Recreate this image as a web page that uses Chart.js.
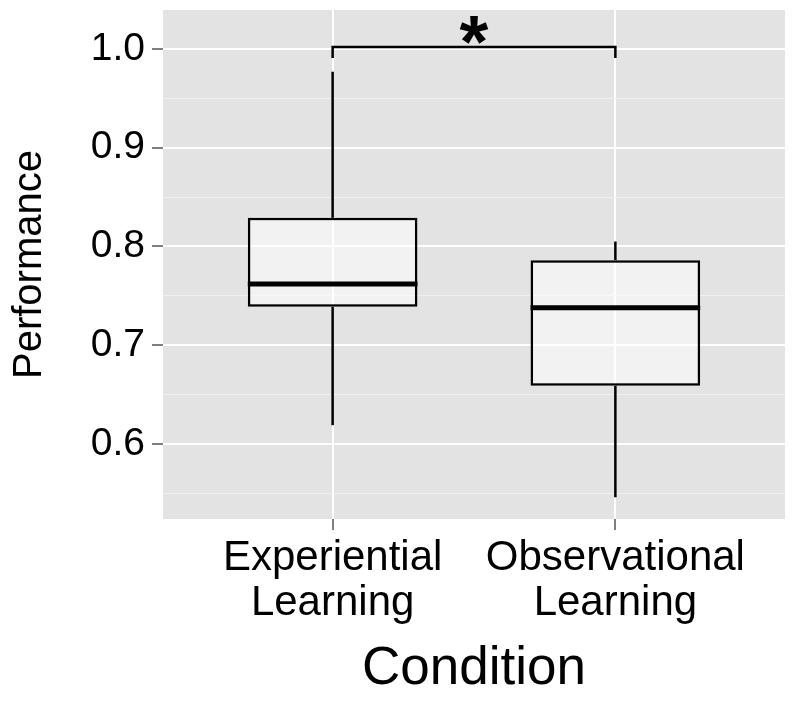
<!DOCTYPE html>
<html>
<head>
<meta charset="utf-8">
<script src="https://cdn.jsdelivr.net/npm/chart.js@4"></script>
<style>
  html, body { margin: 0; padding: 0; background: #fff; }
</style>
</head>
<body>
<canvas id="myChart" width="800" height="704"></canvas>
<script>
// box summary per condition
var conditions = [["Experiential", "Learning"], ["Observational", "Learning"]];
var positions = [1, 2];
var lowWhisker = [0.619, 0.546];
var lowerQuartile = [0.739, 0.659];
var medians = [0.762, 0.738];
var upperQuartile = [0.829, 0.786];
var highWhisker = [0.977, 0.805];

var yMajorTicks = [0.6, 0.7, 0.8, 0.9, 1.0];
var yMinorTicks = [0.55, 0.65, 0.75, 0.85, 0.95];

// significance bracket between the two conditions
var bracketLevel = 1.002;
var bracketDrop = 0.991;
var starLevel = 1.019;

var FONT = "'Liberation Sans', Arial, Helvetica, sans-serif";

function isMajor(v) {
    return yMajorTicks.some(function (m) { return Math.abs(m - v) < 1e-6; });
}

var panelBg = {
    id: 'panelBg',
    beforeDraw: function (chart) {
        var a = chart.chartArea, ctx = chart.ctx;
        ctx.save();
        ctx.fillStyle = '#e3e3e3';
        ctx.fillRect(a.left, a.top, a.right - a.left, a.bottom - a.top);
        ctx.restore();
    }
};

var boxExtras = {
    id: 'boxExtras',
    afterDatasetsDraw: function (chart) {
        var ctx = chart.ctx;
        var xs = chart.scales.x, ys = chart.scales.y;
        var boxes = chart.getDatasetMeta(2).data;
        ctx.save();
        // medians
        ctx.strokeStyle = '#000';
        ctx.lineWidth = 5;
        ctx.lineCap = 'butt';
        boxes.forEach(function (bar, i) {
            var y = ys.getPixelForValue(medians[i]);
            ctx.beginPath();
            ctx.moveTo(bar.x - bar.width / 2, y);
            ctx.lineTo(bar.x + bar.width / 2, y);
            ctx.stroke();
        });
        // bracket
        var x1 = xs.getPixelForValue(positions[0]);
        var x2 = xs.getPixelForValue(positions[1]);
        var yb = ys.getPixelForValue(bracketLevel);
        var yd = ys.getPixelForValue(bracketDrop);
        ctx.lineWidth = 2.5;
        ctx.lineJoin = 'miter';
        ctx.beginPath();
        ctx.moveTo(x1, yd);
        ctx.lineTo(x1, yb);
        ctx.lineTo(x2, yb);
        ctx.lineTo(x2, yd);
        ctx.stroke();
        // star
        ctx.fillStyle = '#000';
        ctx.font = 'bold 74px ' + FONT;
        ctx.textAlign = 'center';
        ctx.textBaseline = 'alphabetic';
        var m = ctx.measureText('*');
        var ys0 = ys.getPixelForValue(starLevel);
        var mid = (m.actualBoundingBoxAscent - m.actualBoundingBoxDescent) / 2;
        ctx.fillText('*', (x1 + x2) / 2, ys0 + mid);
        ctx.restore();
    }
};

function toPoints(lo, hi) {
    return positions.map(function (p, i) { return { x: p, y: [lo[i], hi[i]] }; });
}

var boxChart = new Chart(document.getElementById('myChart'), {
    type: 'bar',
    data: {
        datasets: [{
            label: 'lower whisker',
            data: toPoints(lowWhisker, lowerQuartile),
            backgroundColor: '#000',
            borderWidth: 0,
            maxBarThickness: 2.5
        }, {
            label: 'upper whisker',
            data: toPoints(upperQuartile, highWhisker),
            backgroundColor: '#000',
            borderWidth: 0,
            maxBarThickness: 2.5
        }, {
            label: 'box',
            data: toPoints(lowerQuartile, upperQuartile),
            backgroundColor: 'rgba(255,255,255,0.55)',
            borderColor: '#000',
            borderWidth: 2.5,
            borderSkipped: false,
            barPercentage: 0.6
        }]
    },
    options: {
        responsive: false,
        animation: false,
        devicePixelRatio: 1,
        grouped: false,
        categoryPercentage: 1,
        layout: { padding: { top: 10, right: 15, left: 0, bottom: 0 } },
        plugins: {
            legend: { display: false },
            tooltip: { enabled: false }
        },
        scales: {
            x: {
                type: 'linear',
                min: 0.4,
                max: 2.6,
                offset: false,
                afterBuildTicks: function (scale) {
                    scale.ticks = positions.map(function (p) { return { value: p }; });
                },
                afterFit: function (scale) {
                    scale.height = 185;
                    scale.paddingLeft = 0;
                    scale.paddingRight = 0;
                },
                ticks: {
                    color: '#000',
                    font: { family: FONT, size: 42, lineHeight: 1.07 },
                    padding: 6,
                    maxRotation: 0,
                    autoSkip: false,
                    callback: function (v) {
                        var i = positions.indexOf(v);
                        return i >= 0 ? conditions[i] : '';
                    }
                },
                grid: {
                    color: '#ffffff',
                    lineWidth: 2,
                    tickColor: '#7f7f7f',
                    tickWidth: 2,
                    tickLength: 11,
                    offset: false
                },
                border: { display: false },
                title: {
                    display: true,
                    text: 'Condition',
                    color: '#000',
                    font: { family: FONT, size: 53, lineHeight: 1.2 },
                    padding: { top: 0, bottom: 3 }
                }
            },
            y: {
                min: 0.524,
                max: 1.0395,
                afterBuildTicks: function (scale) {
                    scale.ticks = yMinorTicks.concat(yMajorTicks)
                        .sort(function (a, b) { return a - b; })
                        .map(function (v) { return { value: v }; });
                },
                afterFit: function (scale) {
                    scale.width = 163;
                    scale.paddingTop = 0;
                    scale.paddingBottom = 0;
                },
                ticks: {
                    color: '#000',
                    font: { family: FONT, size: 39 },
                    padding: 7,
                    autoSkip: false,
                    callback: function (v) { return isMajor(v) ? v.toFixed(1) : ''; }
                },
                grid: {
                    color: function (c) { return isMajor(c.tick.value) ? '#ffffff' : '#f0f0f0'; },
                    lineWidth: function (c) { return isMajor(c.tick.value) ? 2 : 1; },
                    tickColor: function (c) { return isMajor(c.tick.value) ? '#7f7f7f' : 'rgba(0,0,0,0)'; },
                    tickWidth: 2,
                    tickLength: 11
                },
                border: { display: false },
                title: {
                    display: true,
                    text: 'Performance',
                    color: '#000',
                    font: { family: FONT, size: 40, lineHeight: 1.2 },
                    padding: { top: 6, bottom: 0 }
                }
            }
        }
    },
    plugins: [panelBg, boxExtras]
});
</script>
</body>
</html>
